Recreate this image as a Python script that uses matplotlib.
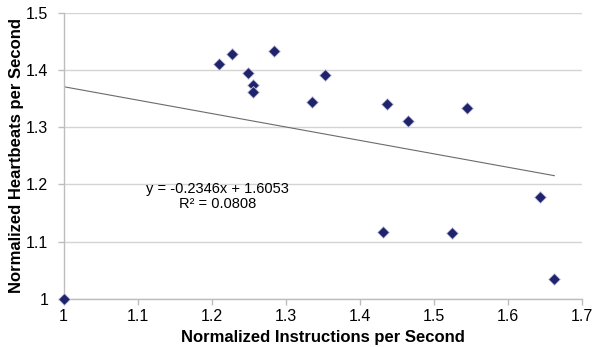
import matplotlib
matplotlib.use("Agg")
import matplotlib.pyplot as plt

# values
ips = [1.0, 1.2105, 1.228, 1.2497, 1.2565, 1.2565, 1.2845, 1.3354, 1.3534,
       1.4376, 1.466, 1.5449, 1.432, 1.5254, 1.644, 1.6632]
hbs = [1.0, 1.410, 1.428, 1.3946, 1.373, 1.361, 1.4325, 1.3444, 1.391,
       1.340, 1.310, 1.334, 1.117, 1.1143, 1.1773, 1.034]

# linear trendline as printed on the chart
slope = -0.2346
intercept = 1.6053
r_squared = 0.0808

x_ticks = [1, 1.1, 1.2, 1.3, 1.4, 1.5, 1.6, 1.7]
x_tick_labels = ["1", "1.1", "1.2", "1.3", "1.4", "1.5", "1.6", "1.7"]
y_ticks = [1, 1.1, 1.2, 1.3, 1.4, 1.5]
y_tick_labels = ["1", "1.1", "1.2", "1.3", "1.4", "1.5"]

plt.rcParams['font.family'] = ['Liberation Sans', 'DejaVu Sans']

fig = plt.figure(figsize=(5.94, 3.47), dpi=100)
ax = fig.add_axes([63.5 / 594, 1 - 298.7 / 347, (581.5 - 63.5) / 594, (298.7 - 12.7) / 347])

ax.set_xlim(1, 1.7)
ax.set_ylim(1, 1.5)

# gridlines (horizontal only)
ax.yaxis.grid(True, color='#d4d4d4', linewidth=1.0)
ax.set_axisbelow(True)

for side in ('top', 'right'):
    ax.spines[side].set_visible(False)
for side in ('left', 'bottom'):
    ax.spines[side].set_color('#bdbdbd')
    ax.spines[side].set_linewidth(1.0)

ax.set_xticks(x_ticks)
ax.set_xticklabels(x_tick_labels)
ax.set_yticks(y_ticks)
ax.set_yticklabels(y_tick_labels)
ax.tick_params(axis='both', colors='#bdbdbd', labelcolor='black', labelsize=11.5,
               length=4, width=1.0, direction='out')
ax.tick_params(axis='y', pad=7)

# trendline over the data range
x0, x1 = min(ips), max(ips)
ax.plot([x0, x1], [slope * x0 + intercept, slope * x1 + intercept],
        color='#6b6b6b', linewidth=0.8, zorder=2)

ax.scatter(ips, hbs, marker='D', s=36, color='#1f236b', edgecolors='#c8cbe0',
           linewidths=0.6, zorder=3, clip_on=False)

ax.text(1.208, 1.178, f"y = {slope}x + {intercept}\nR\u00b2 = {r_squared}",
        ha='center', va='center', fontsize=10.5, linespacing=1.1)

ax.set_xlabel("Normalized Instructions per Second", fontsize=12, fontweight='bold', labelpad=4)
ax.set_ylabel("Normalized Heartbeats per Second", fontsize=12, fontweight='bold', labelpad=1)

fig.savefig("out.png", dpi=100)
